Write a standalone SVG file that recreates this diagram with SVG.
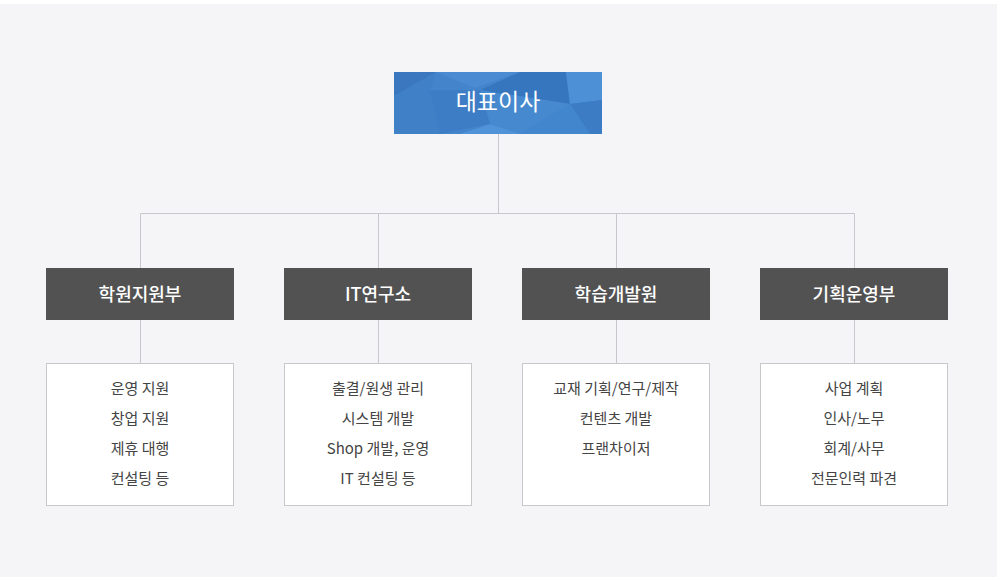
<svg xmlns="http://www.w3.org/2000/svg" width="1000" height="580" viewBox="0 0 1000 580">
<style>
.ln{stroke:#c8c8cc;stroke-width:1;fill:none}
.dept rect{fill:#525252}
.dept text{fill:#ffffff;font-family:"Noto Sans CJK KR","Noto Sans",sans-serif;font-size:18px;font-weight:500;text-anchor:middle}
.duty rect{fill:#ffffff;stroke:#c8c8cc;stroke-width:1}
.duty text{fill:#444444;font-family:"Noto Sans CJK KR","Noto Sans",sans-serif;font-size:15px;text-anchor:middle}
</style>
<rect x="0" y="0" width="1000" height="580" fill="#ffffff"/>
<rect x="0" y="4" width="997" height="573" fill="#f5f5f7"/>
<g id="connectors">
<path class="ln" d="M498.5 134V213.5M140.5 213.5H854.5M140.5 213.5V268M378.5 213.5V268M616.5 213.5V268M854.5 213.5V268"/>
<path class="ln" d="M140.5 320V363M378.5 320V363M616.5 320V363M854.5 320V363"/>
</g>
<g id="ceo">
<rect x="394" y="72" width="208" height="62" fill="#4384cb"/>
<polygon points="394,72 436,72 394,96" fill="#3a77bf"/>
<polygon points="436,72 394,96 394,134 440,134 430,90" fill="#3f80c7"/>
<polygon points="436,72 520,72 475,88" fill="#4a8bd2"/>
<polygon points="520,72 566,72 570,104 480,90" fill="#3676bf"/>
<polygon points="566,72 602,72 602,100 570,104" fill="#4e90d6"/>
<polygon points="570,104 602,100 602,134 590,134" fill="#3b7cc4"/>
<polygon points="480,90 570,104 520,134 490,124" fill="#4789cf"/>
<polygon points="430,90 480,90 490,124 440,134" fill="#3d7dc5"/>
<polygon points="490,124 520,134 460,134" fill="#5193d8"/>
<polygon points="520,134 570,104 590,134" fill="#4286cd"/>
<text x="498" y="110" fill="#ffffff" font-family="'Noto Sans CJK KR','Noto Sans',sans-serif" font-size="23" font-weight="400" text-anchor="middle">대표이사</text>
</g>
<g id="dept1" class="dept"><rect x="46" y="268" width="188" height="52"/><text x="140" y="301">학원지원부</text></g>
<g id="dept2" class="dept"><rect x="284" y="268" width="188" height="52"/><text x="378" y="301">IT연구소</text></g>
<g id="dept3" class="dept"><rect x="522" y="268" width="188" height="52"/><text x="616" y="301">학습개발원</text></g>
<g id="dept4" class="dept"><rect x="760" y="268" width="188" height="52"/><text x="854" y="301">기획운영부</text></g>
<g id="duty1" class="duty"><rect x="46.5" y="363.5" width="187" height="142"/>
<text x="140" y="394">운영 지원</text><text x="140" y="424">창업 지원</text><text x="140" y="454">제휴 대행</text><text x="140" y="484">컨설팅 등</text></g>
<g id="duty2" class="duty"><rect x="284.5" y="363.5" width="187" height="142"/>
<text x="378" y="394">출결/원생 관리</text><text x="378" y="424">시스템 개발</text><text x="378" y="454">Shop 개발, 운영</text><text x="378" y="484">IT 컨설팅 등</text></g>
<g id="duty3" class="duty"><rect x="522.5" y="363.5" width="187" height="142"/>
<text x="616" y="394">교재 기획/연구/제작</text><text x="616" y="424">컨텐츠 개발</text><text x="616" y="454">프랜차이저</text></g>
<g id="duty4" class="duty"><rect x="760.5" y="363.5" width="187" height="142"/>
<text x="854" y="394">사업 계획</text><text x="854" y="424">인사/노무</text><text x="854" y="454">회계/사무</text><text x="854" y="484">전문인력 파견</text></g>
</svg>
